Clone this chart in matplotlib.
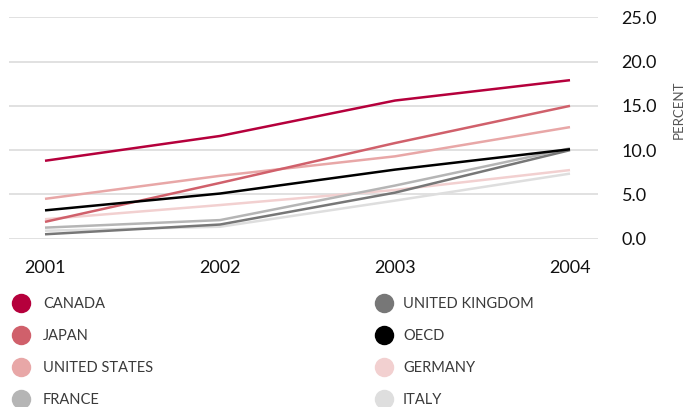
import matplotlib
matplotlib.use("Agg")
import matplotlib.pyplot as plt

plt.rcParams["font.family"] = ["Lato", "DejaVu Sans"]

years = [2001, 2002, 2003, 2004]
year_labels = ["2001", "2002", "2003", "2004"]

countries = ["CANADA", "JAPAN", "UNITED STATES", "FRANCE",
             "UNITED KINGDOM", "OECD", "GERMANY", "ITALY"]
colors = ["#b5003c", "#d0606b", "#e8a7a7", "#b5b5b5",
          "#777777", "#000000", "#f2d0d0", "#dedede"]

canada = [8.8, 11.6, 15.6, 17.9]
japan = [1.9, 6.3, 10.8, 15.0]
united_states = [4.5, 7.1, 9.3, 12.6]
france = [1.25, 2.1, 6.0, 10.2]
united_kingdom = [0.5, 1.6, 5.2, 10.0]
oecd = [3.2, 5.1, 7.8, 10.1]
germany = [2.2, 3.8, 5.5, 7.75]
italy = [0.9, 1.35, 4.3, 7.35]

series = [canada, japan, united_states, france,
          united_kingdom, oecd, germany, italy]

y_ticks = [0, 5, 10, 15, 20, 25]

fig = plt.figure(figsize=(6.98, 4.07), dpi=100)
ax = fig.add_axes([9 / 698, 1 - 238.7 / 407, 589 / 698, 221.4 / 407])

# draw the pale lines first so the strong ones sit on top
draw_order = [7, 6, 3, 4, 2, 1, 5, 0]
for z, i in enumerate(draw_order):
    ax.plot(years, series[i], color=colors[i], lw=1.8,
            solid_capstyle="butt", zorder=3 + z)

ax.set_xlim(2001 - 36 / 175, 2004 + 28 / 175)
ax.set_ylim(0, 25)
ax.set_yticks(y_ticks)
ax.set_yticklabels([f"{v:.1f}" for v in y_ticks])
ax.set_xticks(years)
ax.set_xticklabels(year_labels)

ax.yaxis.tick_right()
ax.tick_params(axis="y", length=0, pad=17, labelsize=13, labelcolor="#111111")
ax.tick_params(axis="x", length=0, pad=15, labelsize=13, labelcolor="#111111")
for lab in ax.get_yticklabels():
    lab.set_horizontalalignment("left")

ax.grid(axis="y", color="#dcdcdc", lw=1.2, zorder=0)
ax.grid(axis="x", visible=False)
for s in ax.spines.values():
    s.set_visible(False)

fig.text(679 / 698, 1 - 110 / 407, "PERCENT", rotation=90,
         ha="center", va="center", fontsize=9.5, color="#555555")

# legend: two columns of dots with labels underneath the chart
leg = fig.add_axes([0, 0, 1, 1])
leg.set_xlim(0, 698)
leg.set_ylim(407, 0)
leg.axis("off")
row_y = [302.5, 334.5, 366.5, 398.5]
for i, name in enumerate(countries):
    col, row = divmod(i, 4)
    mx = 21 if col == 0 else 384
    tx = 43 if col == 0 else 403
    leg.plot(mx, row_y[row], "o", ms=14, color=colors[i], mec="none",
             clip_on=False)
    leg.text(tx, row_y[row] + 1.5, name, ha="left", va="center",
             fontsize=10.5, color="#3a3a3a")

fig.savefig("out.png", dpi=100)
